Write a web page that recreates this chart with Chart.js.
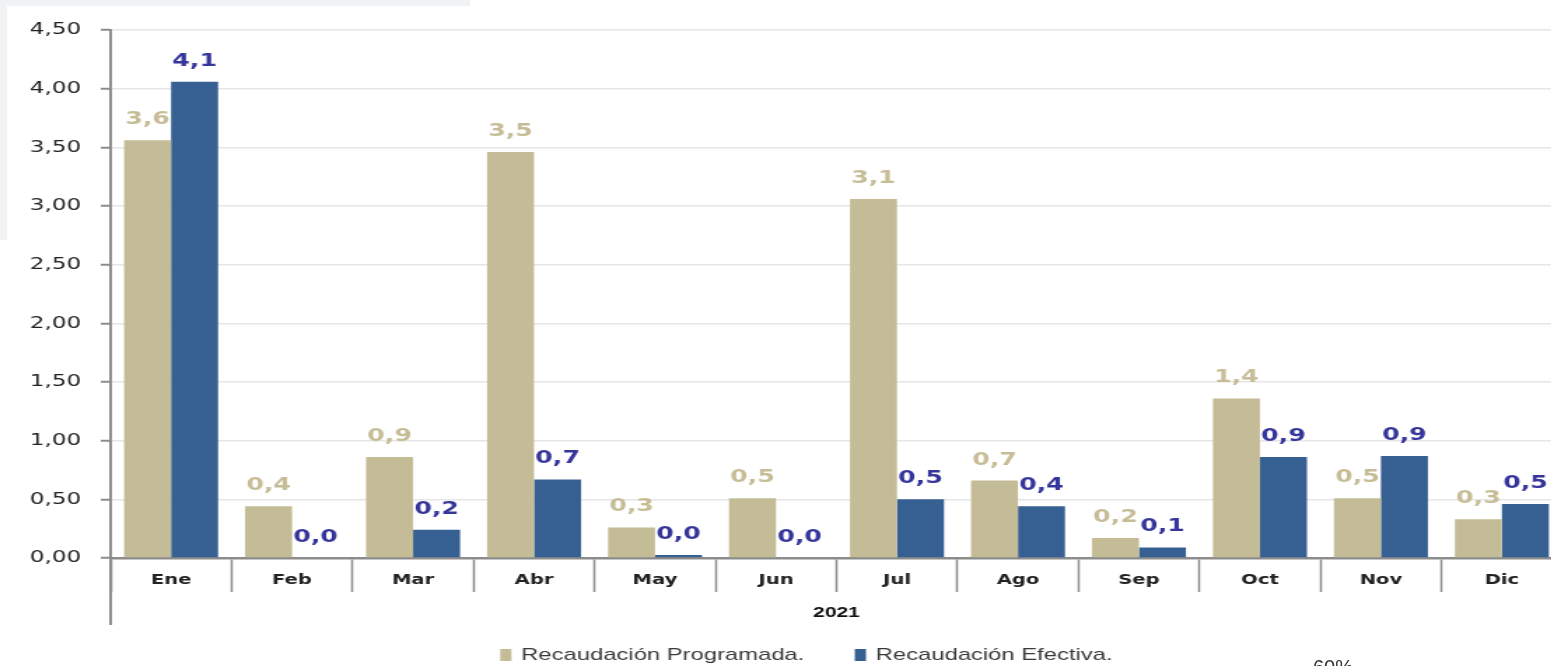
<!DOCTYPE html>
<html>
<head>
<meta charset="utf-8">
<script src="https://cdn.jsdelivr.net/npm/chart.js@4/dist/chart.umd.min.js"></script>
<style>
  html, body { margin: 0; padding: 0; background: #fff; overflow: hidden; }
  body { width: 1551px; height: 666px; position: relative; }
  #wrap { position: absolute; left: 0; top: 0; width: 1120px; height: 666px;
          transform: scaleX(1.4); transform-origin: 0 0; }
  .band { position: absolute; background: #f1f2f4; }
  #extra { position: absolute; left: 1313px; top: 656px; font: 20px "Liberation Sans", sans-serif; color: #333; }
</style>
</head>
<body>
<div class="band" style="left:0;top:0;width:470px;height:6px"></div>
<div class="band" style="left:0;top:0;width:7px;height:240px"></div>
<div id="wrap"><canvas id="myChart"></canvas></div>
<div id="extra">60%</div>
<script>
var months = ['Ene', 'Feb', 'Mar', 'Abr', 'May', 'Jun', 'Jul', 'Ago', 'Sep', 'Oct', 'Nov', 'Dic'];
var programada = [3.56, 0.44, 0.86, 3.46, 0.26, 0.51, 3.06, 0.66, 0.17, 1.36, 0.51, 0.33];
var efectiva = [4.06, 0.00, 0.24, 0.67, 0.025, 0.00, 0.50, 0.44, 0.09, 0.86, 0.87, 0.46];
var seriesNames = ['Recaudación Programada.', 'Recaudación Efectiva.'];
var yearLabel = '2021';

var labelColors = ['#c6bd97', '#35359b'];

// etiquetas de valor encima de cada barra
var valueLabels = {
  id: 'valueLabels',
  afterDatasetsDraw(chart) {
    let ctx = chart.ctx;
    ctx.save();
    ctx.font = 'bold 18px "DejaVu Sans", Verdana, sans-serif';
    ctx.textAlign = 'center';
    ctx.textBaseline = 'alphabetic';
    chart.data.datasets.forEach((ds, i) => {
      ctx.fillStyle = labelColors[i];
      chart.getDatasetMeta(i).data.forEach((bar, j) => {
        let txt = ds.data[j].toFixed(1).replace('.', ',');
        ctx.fillText(txt, bar.x, bar.y - 16);
      });
    });
    ctx.restore();
  }
};

// prolongacion del eje vertical y leyenda propia
var axisAndLegend = {
  id: 'axisAndLegend',
  afterDraw(chart) {
    let ctx = chart.ctx;
    let area = chart.chartArea;
    ctx.save();
    ctx.strokeStyle = '#8c8c8c';
    ctx.lineWidth = 2;
    ctx.beginPath();
    ctx.moveTo(area.left, area.bottom);
    ctx.lineTo(area.left, area.bottom + 67);
    ctx.stroke();

    ctx.font = '17px "Liberation Sans", Arial, sans-serif';
    ctx.textBaseline = 'middle';
    let box = 8, gap = 7, itemGap = 36;
    let widths = chart.data.datasets.map(ds => ctx.measureText(ds.label).width);
    let total = widths.reduce((a, w) => a + box + gap + w, 0) + itemGap * (widths.length - 1);
    let x = chart.width / 2 + 16 - total / 2;
    let y = 655;
    chart.data.datasets.forEach((ds, i) => {
      ctx.fillStyle = ds.backgroundColor;
      ctx.fillRect(x, y - 6, box, 12);
      ctx.fillStyle = '#3a3a3a';
      ctx.fillText(ds.label, x + box + gap, y);
      x += box + gap + widths[i] + itemGap;
    });
    ctx.restore();
  }
};

let ctx = document.getElementById('myChart').getContext('2d');
let myChart = new Chart(ctx, {
  type: 'bar',
  data: {
    labels: months,
    datasets: [{
      label: seriesNames[0],
      data: programada,
      backgroundColor: '#c4bc96',
      categoryPercentage: 0.777,
      barPercentage: 1.0
    }, {
      label: seriesNames[1],
      data: efectiva,
      backgroundColor: '#376092',
      categoryPercentage: 0.777,
      barPercentage: 1.0
    }]
  },
  options: {
    responsive: true,
    maintainAspectRatio: false,
    animation: false,
    layout: { padding: { top: 30, right: 4, left: 0, bottom: 0 } },
    plugins: {
      legend: { display: false },
      tooltip: { enabled: false }
    },
    scales: {
      x: {
        offset: true,
        grid: {
          offset: true,
          drawOnChartArea: false,
          tickLength: 34,
          tickColor: '#8c8c8c',
          tickWidth: 1.5
        },
        border: { color: '#8c8c8c', width: 2.5 },
        ticks: {
          padding: -20,
          color: '#222',
          font: { family: '"DejaVu Sans", Verdana, sans-serif', size: 14, weight: 'bold' }
        },
        title: {
          display: true,
          text: yearLabel,
          color: '#111',
          font: { family: '"Liberation Sans", Arial, sans-serif', size: 15, weight: 'bold' },
          padding: { top: 0, bottom: 44 }
        },
        afterFit(scale) { scale.height = 108; }
      },
      y: {
        min: 0,
        max: 4.5,
        ticks: {
          stepSize: 0.5,
          padding: 14,
          color: '#222',
          font: { family: '"DejaVu Sans", Verdana, sans-serif', size: 16.5 },
          callback: v => v.toFixed(2).replace('.', ',')
        },
        grid: {
          color: '#e6e6e6',
          lineWidth: 1.5,
          tickLength: 7,
          tickColor: '#8c8c8c',
          tickWidth: 2
        },
        border: { color: '#8c8c8c', width: 2 },
        afterFit(scale) { scale.width = 79; }
      }
    }
  },
  plugins: [valueLabels, axisAndLegend]
});
</script>
</body>
</html>
